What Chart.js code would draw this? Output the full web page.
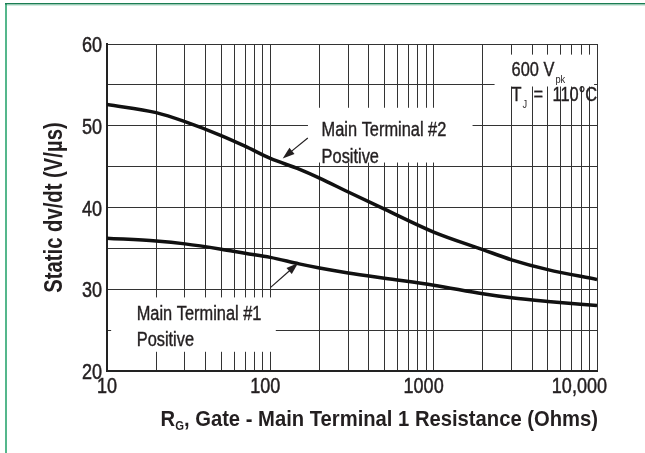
<!DOCTYPE html>
<html>
<head>
<meta charset="utf-8">
<title>Static dv/dt vs gate resistance</title>
<script src="https://cdn.jsdelivr.net/npm/chart.js@4"></script>
<style>
  body { margin: 0; background: #fff; }
  #chart { display: block; }
</style>
</head>
<body>
<canvas id="chart" width="645" height="453"></canvas>
<script>
// gate - MT1 resistance in ohms (log axis)
const resistance = [10, 20, 30, 50, 70, 100, 150, 200, 300, 500, 1000, 2000, 3000, 5000, 10000];
// static dv/dt in V/us
const mt2Positive = [52.6, 51.6, 50.5, 48.8, 47.5, 46.0, 44.7, 43.6, 41.9, 39.8, 37.0, 34.85, 33.6, 32.4, 31.2];
const mt1Positive = [36.25, 35.9, 35.55, 34.9, 34.4, 33.9, 33.1, 32.6, 32.0, 31.35, 30.5, 29.45, 28.95, 28.5, 28.0];

// grid lines of the log axis and the decades that get a label
const xGrid = [10, 20, 30, 40, 50, 60, 70, 80, 90,
               100, 200, 300, 400, 500, 600, 700, 800, 900,
               1000, 2000, 3000, 4000, 5000, 6000, 7000, 8000, 9000, 10000];
const xLabelValues = [10, 100, 1000, 10000];
const xLabelText = ['10', '100', '1000', '10,000'];
const yLabelValues = [20, 30, 40, 50, 60];

// Liberation Sans squeezed horizontally stands in for the condensed face
const FONT = '"Liberation Sans", Arial, sans-serif';
const SQUEEZE = 0.84;

// annotation boxes that blank out the grid, in data units [x1, x2, y1, y2]
const labelBoxes = [
  [170, 1730, 52.2, 45.5],   // Main Terminal #2
  [10.6, 108, 29.0, 22.35],  // Main Terminal #1
  [2360, 9600, 58.7, 54.8]   // 600 Vpk
];

function narrowText(ctx, str, x, y, align, rot, squeeze, heavy) {
  const sq = squeeze || SQUEEZE;
  ctx.save();
  ctx.translate(x, y);
  if (rot) ctx.rotate(rot);
  ctx.scale(sq, 1);
  ctx.textAlign = align || 'left';
  ctx.fillText(str, 0, 0);
  if (heavy) {
    // the printed face is a bit heavier than Liberation regular
    ctx.lineWidth = heavy;
    ctx.strokeText(str, 0, 0);
  }
  ctx.restore();
  return ctx.measureText(str).width * sq;
}

function arrow(ctx, x1, y1, x2, y2) {
  const a = Math.atan2(y2 - y1, x2 - x1);
  const len = 12, half = 4;
  ctx.beginPath();
  ctx.moveTo(x1, y1);
  ctx.lineTo(x2 - Math.cos(a) * len * 0.8, y2 - Math.sin(a) * len * 0.8);
  ctx.lineWidth = 1.2;
  ctx.stroke();
  ctx.beginPath();
  ctx.moveTo(x2, y2);
  ctx.lineTo(x2 - Math.cos(a) * len - Math.sin(a) * half, y2 - Math.sin(a) * len + Math.cos(a) * half);
  ctx.lineTo(x2 - Math.cos(a) * len + Math.sin(a) * half, y2 - Math.sin(a) * len - Math.cos(a) * half);
  ctx.closePath();
  ctx.fill();
}

const decorations = {
  id: 'decorations',
  beforeDraw(chart) {
    const ctx = chart.ctx;
    ctx.save();
    ctx.fillStyle = '#fff';
    ctx.fillRect(0, 0, chart.width, chart.height);
    // green page frame
    ctx.fillStyle = '#55b78c';
    ctx.fillRect(5, 3, 2, chart.height);
    ctx.fillStyle = '#1b7d53';
    ctx.fillRect(5, 3, chart.width, 1.5);
    ctx.fillStyle = '#a6d8c1';
    ctx.fillRect(7, 4.5, chart.width, 1);
    ctx.restore();
  },
  beforeDatasetsDraw(chart) {
    const ctx = chart.ctx;
    const { x, y } = chart.scales;
    ctx.save();
    ctx.fillStyle = '#fff';
    labelBoxes.forEach(b => {
      const l = x.getPixelForValue(b[0]), r = x.getPixelForValue(b[1]);
      const t = y.getPixelForValue(b[2]), btm = y.getPixelForValue(b[3]);
      ctx.fillRect(l, t, r - l, btm - t);
    });
    ctx.restore();
  },
  afterDatasetsDraw(chart) {
    const ctx = chart.ctx;
    const { x, y } = chart.scales;
    const area = chart.chartArea;
    ctx.save();
    ctx.fillStyle = '#231f20';
    ctx.strokeStyle = '#231f20';
    ctx.textBaseline = 'alphabetic';

    // tick labels (the decade labels sit just left of their grid line)
    ctx.font = '22px ' + FONT;
    xLabelValues.forEach((v, i) => {
      narrowText(ctx, xLabelText[i], x.getPixelForValue(v) + 10, 393, 'right', 0, 0.82, 0.5);
    });
    yLabelValues.forEach(v => {
      narrowText(ctx, String(v), area.left - 5, y.getPixelForValue(v) + 8, 'right', 0, 0.82, 0.5);
    });

    // curve labels
    ctx.font = '19.5px ' + FONT;
    let px = x.getPixelForValue(206);
    narrowText(ctx, 'Main Terminal #2', px, y.getPixelForValue(48.78), 'left', 0, 0, 0.4);
    narrowText(ctx, 'Positive', px, y.getPixelForValue(45.5), 'left', 0, 0, 0.4);
    px = x.getPixelForValue(15.2);
    narrowText(ctx, 'Main Terminal #1', px, y.getPixelForValue(26.25), 'left', 0, 0, 0.4);
    narrowText(ctx, 'Positive', px, y.getPixelForValue(23.07), 'left', 0, 0, 0.4);

    arrow(ctx, x.getPixelForValue(169.6), y.getPixelForValue(48.5),
               x.getPixelForValue(119), y.getPixelForValue(46.0));
    arrow(ctx, x.getPixelForValue(100), y.getPixelForValue(30.2),
               x.getPixelForValue(148), y.getPixelForValue(33.2));

    // test conditions
    px = x.getPixelForValue(3000);
    let base = y.getPixelForValue(56.03);
    ctx.font = '19.5px ' + FONT;
    let w = narrowText(ctx, '600 V', px, base, 'left', 0, 0, 0.4);
    ctx.font = '11px ' + FONT;
    narrowText(ctx, 'pk', px + w + 1, base + 7);
    base = y.getPixelForValue(52.97);
    ctx.font = '19.5px ' + FONT;
    w = narrowText(ctx, 'T', px, base, 'left', 0, 0, 0.4);
    ctx.font = '11px ' + FONT;
    narrowText(ctx, 'J', px + w + 1, base + 7);
    ctx.font = '19.5px ' + FONT;
    narrowText(ctx, '=', px + w + 12, base, 'left', 0, 0, 0.4);
    narrowText(ctx, '110°C', px + w + 31, base, 'left', 0, 0, 0.4);

    // x axis title with subscript, right aligned to the plot
    const XSQ = 0.94;
    const rest = ', Gate - Main Terminal 1 Resistance (Ohms)';
    ctx.font = 'bold 21.5px ' + FONT;
    const wR = ctx.measureText('R').width * XSQ;
    const wRest = ctx.measureText(rest).width * XSQ;
    ctx.font = 'bold 12px ' + FONT;
    const wG = ctx.measureText('G').width * XSQ;
    const tx = area.right + 1 - (wR + wG + wRest);
    const ty = 425.7;
    ctx.font = 'bold 21.5px ' + FONT;
    narrowText(ctx, 'R', tx, ty, 'left', 0, XSQ);
    ctx.font = 'bold 12px ' + FONT;
    narrowText(ctx, 'G', tx + wR, ty + 4, 'left', 0, XSQ);
    ctx.font = 'bold 21.5px ' + FONT;
    narrowText(ctx, rest, tx + wR + wG, ty, 'left', 0, XSQ);

    // y axis title
    ctx.font = 'bold 25px ' + FONT;
    narrowText(ctx, 'Static dv/dt (V/µs)', 61.5, (area.top + area.bottom) / 2, 'center', -Math.PI / 2, 0.81);
    ctx.restore();
  }
};

const toPoints = vals => resistance.map((r, i) => ({ x: r, y: vals[i] }));

new Chart(document.getElementById('chart'), {
  type: 'line',
  data: {
    datasets: [
      { label: 'Main Terminal #2 Positive', data: toPoints(mt2Positive) },
      { label: 'Main Terminal #1 Positive', data: toPoints(mt1Positive) }
    ]
  },
  options: {
    responsive: false,
    animation: false,
    devicePixelRatio: 1,
    layout: { padding: { left: 0, top: 44, right: 48, bottom: 0 } },
    plugins: { legend: { display: false }, tooltip: { enabled: false } },
    elements: {
      point: { radius: 0 },
      line: { borderWidth: 3.5, borderColor: '#111', cubicInterpolationMode: 'monotone' }
    },
    scales: {
      x: {
        type: 'logarithmic',
        min: 10,
        max: 10000,
        afterBuildTicks: s => { s.ticks = xGrid.map(v => ({ value: v })); },
        afterFit: s => { s.height = 82; },
        grid: { color: '#333', lineWidth: 1, drawTicks: false },
        border: { color: '#222', width: 2 },
        ticks: { display: false, autoSkip: false }
      },
      y: {
        min: 20,
        max: 60,
        afterFit: s => { s.width = 107; },
        grid: { color: '#333', lineWidth: 1, drawTicks: false },
        border: { color: '#222', width: 2 },
        ticks: { display: false, stepSize: 5 }
      }
    }
  },
  plugins: [decorations]
});
</script>
</body>
</html>
